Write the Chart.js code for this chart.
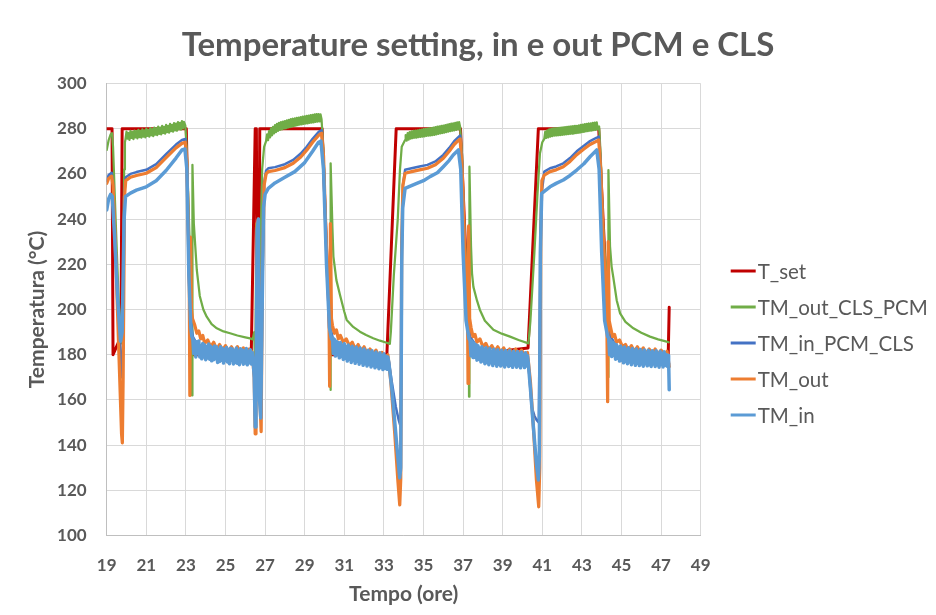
<!DOCTYPE html>
<html>
<head>
<meta charset="utf-8">
<title>Temperature setting, in e out PCM e CLS</title>
<script src="https://cdn.jsdelivr.net/npm/chart.js@4.4.1/dist/chart.umd.min.js"></script>
<style>
  html, body { margin: 0; padding: 0; background: #ffffff; }
  #wrap { position: relative; width: 936px; height: 615px; }
</style>
</head>
<body>
<div id="wrap"><canvas id="chart"></canvas></div>
<script>
// Axis ticks
const xTicks = [19, 21, 23, 25, 27, 29, 31, 33, 35, 37, 39, 41, 43, 45, 47, 49];
const yTicks = [100, 120, 140, 160, 180, 200, 220, 240, 260, 280, 300];

const seriesNames = ['T_set', 'TM_out_CLS_PCM', 'TM_in_PCM_CLS', 'TM_out', 'TM_in'];

// [time (h), temperature (°C)]
const tSet = [
  [19.0, 280], [19.27, 280], [19.32, 180], [19.36, 180], [19.72, 188], [19.78, 280],
  [23.02, 280], [23.25, 180],
  [26.3, 180], [26.5, 280], [26.56, 280], [26.6, 190], [26.68, 190], [26.73, 280],
  [29.88, 280], [30.3, 180],
  [33.15, 180], [33.62, 280],
  [36.87, 280], [37.35, 180],
  [40.28, 183], [40.8, 280],
  [43.85, 280], [44.4, 180],
  [47.36, 180], [47.41, 201]
];

const tmOutClsPcm = [
  [19.0, 270.6], [19.1, 275], [19.2, 277.5], [19.27, 278], [19.32, 272], [19.45, 240], [19.6, 205],
  [19.75, 185], [19.82, 200], [19.88, 262], [19.92, 274],
  [19.95,275.4],[20.00,278.7],[20.05,275.6],[20.10,278.1],[20.15,275.1],[20.20,279.0],[20.25,275.9],
  [20.30,278.6],[20.35,275.4],[20.40,279.2],[20.45,276.2],[20.50,278.9],[20.55,275.7],[20.60,279.5],
  [20.65,276.3],[20.70,279.0],[20.75,276.1],[20.80,279.7],[20.85,276.5],[20.90,279.3],[20.95,276.2],
  [21.00,280.0],[21.05,276.8],[21.10,279.5],[21.15,276.5],[21.20,280.3],[21.25,277.1],[21.30,279.8],
  [21.35,276.7],[21.40,280.5],[21.45,277.4],[21.50,280.2],[21.55,277.2],[21.60,280.9],[21.65,277.7],
  [21.70,280.5],[21.75,277.5],[21.80,281.3],[21.85,278.1],[21.90,280.8],[21.95,277.8],[22.00,281.7],
  [22.05,278.5],[22.10,281.3],[22.15,278.3],[22.20,282.1],[22.25,278.9],[22.30,281.7],[22.35,278.7],
  [22.40,282.5],[22.45,279.3],[22.50,282.2],[22.55,279.1],[22.60,282.9],[22.65,279.7],[22.70,282.6],
  [22.75,279.6],[22.80,283.3],[22.85,280.1],[22.90,283.0],[22.97,281.5],
  [23.05, 270], [23.15, 240], [23.25, 215], [23.29, 205], [23.31, 162], [23.33, 264], [23.4, 238],
  [23.55, 217.5], [23.7, 206], [23.88, 200], [24.05, 196.8], [24.3, 193.5],
  [24.56, 191.7], [24.9, 190.3], [25.23, 189.5], [25.6, 188.5], [26.0, 187.7], [26.24, 187.2], [26.38, 186.8],
  [26.45, 190], [26.5, 170], [26.56, 238], [26.62, 200], [26.7, 175], [26.78, 230], [26.85, 262],
  [26.95, 272],
  [27.05,274.5],[27.10,277.5],[27.15,274.9],[27.20,278.9],[27.25,276.2],[27.30,280.1],[27.35,277.1],
  [27.40,280.8],[27.45,277.9],[27.50,281.6],[27.55,278.5],[27.60,282.1],[27.65,279.0],[27.70,282.6],
  [27.75,279.5],[27.80,282.9],[27.85,279.7],[27.90,283.1],[27.95,280.0],[28.00,283.4],[28.05,280.2],
  [28.10,283.7],[28.15,280.5],[28.20,283.9],[28.25,280.7],[28.30,284.2],[28.35,280.9],[28.40,284.4],
  [28.45,281.2],[28.50,284.6],[28.55,281.4],[28.60,284.8],[28.65,281.6],[28.70,284.9],[28.75,281.8],
  [28.80,285.1],[28.85,281.9],[28.90,285.3],[28.95,282.1],[29.00,285.5],[29.05,282.3],[29.10,285.7],
  [29.15,282.4],[29.20,285.8],[29.25,282.6],[29.30,286.0],[29.35,282.7],[29.40,286.1],[29.45,282.8],
  [29.50,286.3],[29.55,283.0],[29.60,286.4],[29.65,283.1],[29.70,286.5],[29.75,283.2],[29.80,286.3],
  [29.85,284.2],
  [29.95, 270], [30.05, 240], [30.15, 218], [30.28, 207], [30.3, 164.4], [30.32, 264.7], [30.4, 236],
  [30.45, 223.4], [30.6, 213], [30.78, 206.5], [31.0, 199], [31.12, 195.4], [31.45, 192.3],
  [31.79, 190.2], [32.1, 188.7], [32.46, 187.3], [32.8, 186.2], [33.14, 185.3], [33.3, 184.8],
  [33.35, 190], [33.5, 215], [33.7, 240], [33.81, 261.7], [33.9, 272],
  [34.07,275.0],[34.10,277.2],[34.15,274.7],[34.20,278.0],[34.25,275.2],[34.30,278.5],[34.35,275.6],
  [34.40,278.8],[34.45,275.8],[34.50,279.0],[34.55,276.0],[34.60,279.2],[34.65,276.1],[34.70,279.3],
  [34.75,276.3],[34.80,279.5],[34.85,276.4],[34.90,279.6],[34.95,276.5],[35.00,279.8],[35.05,276.6],
  [35.10,279.9],[35.15,276.8],[35.20,280.0],[35.25,276.9],[35.30,280.2],[35.35,277.0],[35.40,280.3],
  [35.45,277.2],[35.50,280.5],[35.55,277.3],[35.60,280.7],[35.65,277.5],[35.70,280.9],[35.75,277.7],
  [35.80,281.0],[35.85,277.9],[35.90,281.2],[35.95,278.1],[36.00,281.4],[36.05,278.3],[36.10,281.6],
  [36.15,278.5],[36.20,281.8],[36.25,278.7],[36.30,282.0],[36.35,278.9],[36.40,282.2],[36.45,279.1],
  [36.50,282.4],[36.55,279.3],[36.60,282.6],[36.65,279.5],[36.70,282.8],[36.75,279.7],[36.80,282.9],
  [36.85,280.8],
  [36.95, 268], [37.05, 240], [37.15, 220], [37.28, 208], [37.3, 161.4], [37.32, 263.2], [37.4, 228],
  [37.45, 216], [37.52, 210], [37.7, 204], [37.85, 199.8], [38.1, 195], [38.53, 191], [38.95, 189.3],
  [39.37, 188], [39.8, 186.5], [40.3, 185],
  [40.4, 195], [40.6, 225], [40.75, 250], [40.88, 269], [41.0, 274],
  [41.10,275.5],[41.15,278.7],[41.20,275.9],[41.25,279.3],[41.30,276.2],[41.35,279.7],[41.40,276.5],
  [41.45,279.9],[41.50,276.7],[41.55,280.1],[41.60,276.9],[41.65,280.2],[41.70,277.0],[41.75,280.3],
  [41.80,277.1],[41.85,280.4],[41.90,277.2],[41.95,280.5],[42.00,277.3],[42.05,280.6],[42.10,277.4],
  [42.15,280.7],[42.20,277.5],[42.25,280.8],[42.30,277.6],[42.35,280.9],[42.40,277.7],[42.45,281.0],
  [42.50,277.8],[42.55,281.1],[42.60,277.9],[42.65,281.2],[42.70,278.0],[42.75,281.3],[42.80,278.2],
  [42.85,281.5],[42.90,278.3],[42.95,281.7],[43.00,278.5],[43.05,281.8],[43.10,278.6],[43.15,282.0],
  [43.20,278.8],[43.25,282.1],[43.30,278.9],[43.35,282.3],[43.40,279.1],[43.45,282.4],[43.50,279.2],
  [43.55,282.6],[43.60,279.4],[43.65,282.7],[43.70,279.5],[43.75,282.8],[43.80,279.7],[43.87,281.0],
  [43.95, 268], [44.05, 242], [44.15, 225], [44.3, 212], [44.32, 170], [44.34, 261.7], [44.42, 228],
  [44.5, 219], [44.59, 214], [44.76, 204], [44.93, 198.3], [45.2, 194.5], [45.6, 191.7], [46.0, 189.7],
  [46.44, 188], [46.85, 186.8], [47.28, 185.8], [47.38, 185.5]
];

const tmInPcmCls = [
  [19.0, 257], [19.1, 259.5], [19.25, 260.5], [19.32, 256], [19.45, 228], [19.6, 195], [19.75, 170],
  [19.8, 175], [19.88, 250], [19.96, 258.5],
  [20.2, 260], [20.5, 260.8], [21.0, 261.8], [21.5, 264.3], [22.0, 268.7], [22.5, 273], [22.8, 275], [22.97, 275.5],
  [23.05, 266], [23.15, 225], [23.25, 195], [23.35, 188], [23.6, 184], [24.0, 182], [24.5, 181],
  [25.0, 180.5], [25.5, 180], [26.0, 179.5], [26.38, 179.5],
  [26.45, 172], [26.5, 152], [26.55, 165], [26.6, 236], [26.66, 238], [26.72, 165], [26.8, 152],
  [26.87, 215], [26.95, 256], [27.05, 261.5], [27.16, 262.5],
  [27.5, 263], [28.0, 264.3], [28.42, 266.2], [28.8, 269], [29.1, 272], [29.4, 275.5], [29.72, 278.7], [29.85, 279.3],
  [29.95, 268], [30.1, 225], [30.25, 194], [30.4, 188], [30.7, 184], [31.2, 182], [31.8, 180],
  [32.4, 179], [33.0, 177.5], [33.25, 177],
  [33.4, 168], [33.6, 157], [33.75, 151], [33.85, 148], [33.9, 225], [33.96, 255], [34.07, 261.8],
  [34.4, 262.5], [34.8, 263.3], [35.2, 264], [35.6, 265.5], [36.0, 268.4], [36.3, 271.5], [36.55, 274.5],
  [36.76, 276.3], [36.85, 277],
  [36.95, 264], [37.05, 235], [37.2, 200], [37.35, 188], [37.7, 183.5], [38.2, 180.5], [38.8, 179.5],
  [39.5, 179], [40.2, 178.5],
  [40.3, 176], [40.46, 157], [40.6, 153], [40.72, 151], [40.82, 150], [40.88, 200], [40.95, 250], [41.1, 261],
  [41.39, 262.5], [41.7, 263.3], [42.06, 264.7], [42.4, 267], [42.74, 270], [43.1, 272.5], [43.41, 274.5],
  [43.75, 276], [43.85, 276.5],
  [43.95, 264], [44.05, 238], [44.2, 205], [44.35, 190], [44.7, 184], [45.2, 181], [45.8, 180],
  [46.5, 179.5], [47.3, 179], [47.4, 176]
];

const tmOut = [
  [19.0, 255.8], [19.1, 258], [19.25, 259], [19.32, 255], [19.45, 225], [19.6, 185], [19.75, 145],
  [19.79, 141], [19.83, 170], [19.9, 250], [19.96, 257],
  [20.2, 258.5], [20.5, 259.3], [21.0, 260.3], [21.5, 262.8], [22.0, 267.2], [22.5, 271.5], [22.8, 273.5], [22.97, 274],
  [23.05, 265], [23.12, 235], [23.17, 212], [23.2, 162], [23.23, 232], [23.28, 200], [23.33, 196],
  [23.45, 193], [23.55, 189.5], [23.65, 190.5], [23.75, 187], [23.85, 188.5], [23.95, 185],
  [24.1, 186.5], [24.25, 183.5], [24.4, 185.5], [24.55, 182.5], [24.7, 184.5], [24.85, 182],
  [25.0, 184], [25.15, 181.5], [25.3, 183.5], [25.45, 181], [25.6, 183.5], [25.75, 181],
  [25.9, 183], [26.05, 180.5], [26.2, 182.5], [26.35, 181],
  [26.45, 170], [26.5, 145], [26.54, 160], [26.6, 238], [26.66, 240], [26.72, 165], [26.8, 146],
  [26.86, 215], [26.95, 255], [27.05, 260], [27.16, 261],
  [27.5, 261.5], [28.0, 262.8], [28.42, 264.7], [28.8, 267.5], [29.1, 270.5], [29.4, 274], [29.72, 277.2], [29.85, 278],
  [29.95, 268], [30.05, 240], [30.15, 215], [30.22, 205], [30.26, 166], [30.3, 238], [30.35, 196],
  [30.4, 193], [30.5, 189.5], [30.6, 191], [30.7, 187], [30.8, 188.5], [30.95, 185.5], [31.1, 187],
  [31.25, 184], [31.4, 185.5], [31.55, 182.5], [31.7, 184.5], [31.85, 181.5], [32.0, 183.5],
  [32.15, 180.5], [32.3, 182.5], [32.45, 180], [32.6, 182], [32.75, 179], [32.9, 181], [33.05, 178.5], [33.2, 180],
  [33.35, 168], [33.55, 145], [33.7, 125], [33.8, 113.5], [33.85, 125], [33.9, 230], [33.96, 255], [34.07, 260.3],
  [34.4, 261], [34.8, 261.8], [35.2, 262.5], [35.6, 264], [36.0, 266.9], [36.3, 270], [36.55, 273],
  [36.76, 274.8], [36.85, 275.5],
  [36.95, 262], [37.05, 235], [37.15, 215], [37.22, 204], [37.25, 167.3], [37.28, 237], [37.33, 196],
  [37.4, 192], [37.5, 188], [37.6, 189], [37.7, 185.5], [37.85, 187], [38.0, 183.5], [38.15, 185],
  [38.3, 182], [38.45, 184], [38.6, 181.5], [38.75, 183.5], [38.9, 181], [39.05, 183], [39.2, 180.5],
  [39.35, 182.5], [39.5, 180.5], [39.65, 182.5], [39.8, 180], [39.95, 182], [40.1, 180], [40.25, 181],
  [40.4, 168], [40.55, 148], [40.7, 125], [40.82, 112.7], [40.87, 130], [40.92, 235], [40.98, 257], [41.1, 259.5],
  [41.39, 261], [41.7, 261.8], [42.06, 263.2], [42.4, 265.5], [42.74, 268.5], [43.1, 271], [43.41, 273],
  [43.75, 274.5], [43.85, 275],
  [43.95, 262], [44.05, 238], [44.15, 218], [44.25, 205], [44.3, 159.2], [44.33, 230], [44.38, 195],
  [44.45, 192], [44.55, 188], [44.65, 189], [44.75, 185.5], [44.9, 186.5], [45.05, 183.5], [45.2, 184.5],
  [45.35, 182], [45.5, 184], [45.65, 181.5], [45.8, 183.5], [45.95, 181], [46.1, 183], [46.25, 180.5],
  [46.4, 182.5], [46.55, 180.5], [46.7, 182.5], [46.85, 180], [47.0, 182], [47.15, 180], [47.3, 181.5], [47.41, 174.7]
];

const tmIn = [
  [19.0, 244], [19.1, 249], [19.2, 251], [19.28, 250], [19.4, 232], [19.55, 205], [19.7, 186],
  [19.78, 190], [19.88, 240], [19.95, 250],
  [20.2, 251.5], [20.5, 252.8], [21.0, 254.3], [21.5, 257], [22.0, 261.5], [22.5, 267], [22.8, 270.6], [22.95, 271],
  [23.05, 262], [23.15, 215], [23.25, 192], [23.3, 188],
  [23.35,187.0],[23.40,180.5],[23.45,186.0],[23.50,179.0],[23.55,185.7],[23.60,180.5],[23.65,186.1],
  [23.70,179.0],[23.75,184.0],[23.80,178.2],[23.85,185.0],[23.90,179.0],[23.95,184.3],[24.00,177.8],
  [24.05,183.5],[24.10,178.5],[24.15,184.7],[24.20,178.0],[24.25,183.7],[24.30,177.3],[24.35,183.1],
  [24.40,177.8],[24.45,183.9],[24.50,178.2],[24.55,183.4],[24.60,176.6],[24.65,181.9],[24.70,177.0],
  [24.75,183.5],[24.80,177.6],[24.85,182.8],[24.90,176.3],[24.95,182.3],[25.00,177.4],[25.05,183.2],
  [25.10,176.8],[25.15,182.0],[25.20,176.0],[25.25,182.9],[25.30,177.5],[25.35,182.5],[25.40,175.9],
  [25.45,181.7],[25.50,176.6],[25.55,183.0],[25.60,176.2],[25.65,181.4],[25.70,175.6],[25.75,182.6],
  [25.80,176.9],[25.85,182.1],[25.90,175.8],[25.95,181.5],[26.00,176.3],[26.05,182.7],[26.10,175.5],
  [26.15,181.3],[26.20,176.4],[26.25,182.2],[26.30,175.9],[26.35,181.0],[26.40,177.0],
  [26.45, 170], [26.5, 148], [26.54, 160], [26.6, 235], [26.66, 240], [26.72, 160], [26.78, 152],
  [26.85, 200], [26.92, 245], [27.0, 251], [27.16, 253.6],
  [27.5, 256], [28.0, 258.5], [28.5, 261], [29.0, 265], [29.4, 270], [29.7, 274], [29.82, 274.5],
  [29.95, 262], [30.1, 220], [30.25, 192], [30.35, 187],
  [30.40,187.5],[30.45,180.5],[30.50,186.7],[30.55,179.4],[30.60,186.0],[30.65,180.0],[30.70,185.3],
  [30.75,178.6],[30.80,185.4],[30.85,179.2],[30.90,184.1],[30.95,177.9],[31.00,184.9],[31.05,178.4],
  [31.10,183.5],[31.15,177.2],[31.20,184.3],[31.25,178.0],[31.30,183.0],[31.35,176.6],[31.40,183.7],
  [31.45,177.4],[31.50,182.5],[31.55,176.2],[31.60,183.4],[31.65,177.1],[31.70,181.9],[31.75,175.8],
  [31.80,183.0],[31.85,176.5],[31.90,181.5],[31.95,175.3],[32.00,182.5],[32.05,176.0],[32.10,181.1],
  [32.15,175.0],[32.20,182.0],[32.25,175.8],[32.30,180.7],[32.35,174.6],[32.40,181.7],[32.45,175.2],
  [32.50,180.3],[32.55,174.2],[32.60,181.2],[32.65,174.9],[32.70,179.9],[32.75,173.8],[32.80,180.9],
  [32.85,174.5],[32.90,179.5],[32.95,173.4],[33.00,180.4],[33.05,174.0],[33.10,179.3],[33.15,173.6],
  [33.20,179.0],[33.25,176.5],
  [33.4, 165], [33.55, 150], [33.7, 135], [33.8, 125.5], [33.85, 130], [33.9, 220], [33.95, 245], [34.07, 253.6],
  [34.3, 254.5], [34.66, 255.8], [35.0, 257], [35.33, 258.8], [35.7, 260.5], [36.0, 263.2], [36.3, 266],
  [36.5, 268.4], [36.76, 270.6],
  [36.88, 262], [37.0, 225], [37.15, 195], [37.3, 187],
  [37.35,186.5],[37.40,179.5],[37.45,185.9],[37.50,178.8],[37.55,185.1],[37.60,179.2],[37.65,184.4],
  [37.70,177.6],[37.75,184.0],[37.80,178.0],[37.85,182.9],[37.90,176.8],[37.95,183.5],[38.00,177.2],
  [38.05,182.3],[38.10,176.0],[38.15,183.1],[38.20,176.6],[38.25,181.7],[38.30,175.6],[38.35,182.8],
  [38.40,176.4],[38.45,181.4],[38.50,175.2],[38.55,182.4],[38.60,176.2],[38.65,181.1],[38.70,174.9],
  [38.75,182.2],[38.80,175.8],[38.85,180.9],[38.90,175.0],[38.95,182.0],[39.00,175.5],[39.05,180.7],
  [39.10,174.6],[39.15,181.9],[39.20,175.7],[39.25,180.5],[39.30,174.8],[39.35,181.7],[39.40,175.3],
  [39.45,180.4],[39.50,174.4],[39.55,181.5],[39.60,175.6],[39.65,180.3],[39.70,174.5],[39.75,181.4],
  [39.80,175.1],[39.85,180.1],[39.90,174.2],[39.95,181.2],[40.00,175.4],[40.05,180.0],[40.10,174.3],
  [40.15,180.9],[40.20,175.0],[40.25,179.5],[40.28,177.5],
  [40.4, 165], [40.55, 148], [40.7, 132], [40.8, 124.6], [40.85, 135], [40.9, 225], [40.97, 251.4],
  [41.39, 254.3], [41.7, 255.8], [42.06, 257.3], [42.4, 259.3], [42.74, 261.7], [43.1, 264.5],
  [43.41, 267.6], [43.75, 270.6],
  [43.87, 262], [44.0, 225], [44.15, 195], [44.3, 188],
  [44.35,187.5],[44.40,180.0],[44.45,186.3],[44.50,179.2],[44.55,185.5],[44.60,179.6],[44.65,184.7],
  [44.70,178.0],[44.75,184.4],[44.80,178.4],[44.85,183.3],[44.90,177.2],[44.95,183.9],[45.00,177.6],
  [45.05,182.7],[45.10,176.4],[45.15,183.4],[45.20,177.0],[45.25,182.1],[45.30,176.0],[45.35,183.1],
  [45.40,176.8],[45.45,181.7],[45.50,175.6],[45.55,182.7],[45.60,176.5],[45.65,181.4],[45.70,175.3],
  [45.75,182.5],[45.80,176.2],[45.85,181.2],[45.90,175.2],[45.95,182.3],[46.00,175.9],[46.05,181.0],
  [46.10,174.9],[46.15,182.1],[46.20,176.0],[46.25,180.8],[46.30,175.1],[46.35,182.0],[46.40,175.6],
  [46.45,180.7],[46.50,174.8],[46.55,181.8],[46.60,175.9],[46.65,180.6],[46.70,174.8],[46.75,181.7],
  [46.80,175.4],[46.85,180.4],[46.90,174.5],[46.95,181.5],[47.00,175.7],[47.05,180.3],[47.10,174.6],
  [47.15,181.3],[47.20,175.3],[47.25,180.1],[47.30,174.9],[47.35,179.7],[47.38,177.5],[47.41,164.5]
];

const seriesColors = ['#C00000', '#70AD47', '#4472C4', '#ED7D31', '#5B9BD5'];
const seriesWidths = [3, 2.25, 2.5, 3.25, 3.5];

const FONT = 'Lato, "Open Sans", "DejaVu Sans", sans-serif';
const TEXT = '#595959';

const toXY = rows => rows.map(([x, y]) => ({ x, y }));
const allSeries = [tSet, tmOutClsPcm, tmInPcmCls, tmOut, tmIn];

// Legend drawn as a vertical list to the right of the plot
const sideLegend = {
  id: 'sideLegend',
  afterDraw(chart) {
    const { ctx, chartArea } = chart;
    const x0 = chartArea.right + 30;
    const yStart = 271;
    const step = 36;
    ctx.save();
    ctx.font = '20.5px ' + FONT;
    ctx.textBaseline = 'middle';
    ctx.textAlign = 'left';
    chart.data.datasets.forEach((ds, i) => {
      const y = yStart + i * step;
      ctx.strokeStyle = ds.borderColor;
      ctx.lineWidth = 3;
      ctx.beginPath();
      ctx.moveTo(x0, y);
      ctx.lineTo(x0 + 25, y);
      ctx.stroke();
      ctx.fillStyle = TEXT;
      ctx.fillText(ds.label, x0 + 27, y + 1);
    });
    ctx.restore();
  }
};

const datasets = allSeries.map((rows, i) => ({
  label: seriesNames[i],
  data: toXY(rows),
  borderColor: seriesColors[i],
  backgroundColor: seriesColors[i],
  borderWidth: seriesWidths[i],
  borderJoinStyle: 'round',
  borderCapStyle: 'round',
  pointRadius: 0,
  tension: 0,
  fill: false,
  // later series sit on top of earlier ones
  order: allSeries.length - i
}));

new Chart(document.getElementById('chart'), {
  type: 'line',
  data: { datasets },
  plugins: [sideLegend],
  options: {
    responsive: true,
    maintainAspectRatio: false,
    animation: false,
    events: [],
    layout: { padding: { left: 20, right: 0, top: 0, bottom: 0 } },
    plugins: {
      legend: { display: false },
      tooltip: { enabled: false },
      title: {
        display: true,
        text: 'Temperature setting, in e out PCM e CLS',
        color: TEXT,
        font: { family: FONT, size: 33, weight: 'bold', lineHeight: 1.2 },
        padding: { top: 25.2, bottom: 18.7 }
      }
    },
    scales: {
      x: {
        type: 'linear',
        min: 19,
        max: 49,
        afterBuildTicks: s => { s.ticks = xTicks.map(v => ({ value: v })); },
        afterFit: s => { s.height = 79.5; },
        grid: { color: '#d9d9d9', lineWidth: 1, drawTicks: false },
        border: { color: '#bfbfbf', width: 1 },
        ticks: { color: TEXT, padding: 20, font: { family: FONT, size: 17, weight: 'bold' } },
        title: {
          display: true,
          text: 'Tempo (ore)',
          color: TEXT,
          font: { family: FONT, size: 21, weight: 'bold', lineHeight: 1.2 },
          padding: { top: 0, bottom: 8.4 }
        }
      },
      y: {
        type: 'linear',
        min: 100,
        max: 300,
        afterBuildTicks: s => { s.ticks = yTicks.map(v => ({ value: v })); },
        afterFit: s => { s.width = 86.7; },
        grid: { color: '#d9d9d9', lineWidth: 1, drawTicks: false },
        border: { color: '#bfbfbf', width: 1 },
        ticks: { color: TEXT, padding: 20, font: { family: FONT, size: 17, weight: 'bold' } },
        title: {
          display: true,
          text: 'Temperatura (°C)',
          color: TEXT,
          font: { family: FONT, size: 21, weight: 'bold', lineHeight: 1.2 },
          padding: { top: 4.4, bottom: 0 }
        }
      },
      // empty band on the right that holds the legend
      legendSpace: {
        type: 'linear',
        position: 'right',
        display: true,
        afterFit: s => { s.width = 235.3; },
        grid: { display: false, drawTicks: false },
        border: { display: false },
        ticks: { display: false }
      }
    }
  }
});
</script>
</body>
</html>
